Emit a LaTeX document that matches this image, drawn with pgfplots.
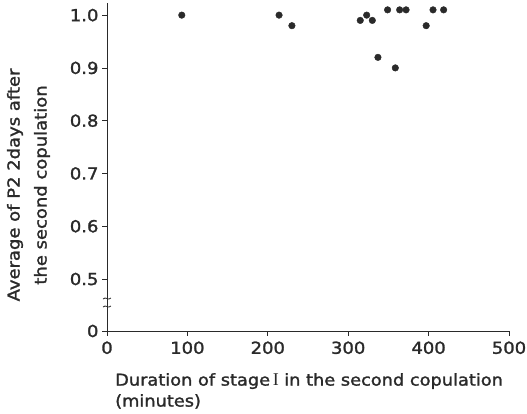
\documentclass[border=0pt]{standalone}
\usepackage{fontspec}
\setmainfont{DejaVu Sans}[FakeStretch=1.09, FakeBold=1.6]
\usepackage{pgfplots}
\pgfplotsset{compat=1.18}
\definecolor{ink}{HTML}{2A2A2A}
\begin{document}
\begin{tikzpicture}
\pgfplotstableread{
x y
93 1.00
214 1.00
230 0.98
315 0.99
323 1.00
330 0.99
337 0.92
349 1.01
358.6 0.90
364 1.01
372 1.01
397 0.98
405.5 1.01
418.7 1.01
}\datatable
\begin{axis}[
  scale only axis, width=402pt, height=328pt,
  xmin=0, xmax=500, ymin=0.4015, ymax=1.023,
  axis x line=bottom, axis y line=left,
  axis line style={-, line width=0.8pt, color=ink},
  tick align=outside, major tick length=5pt,
  tick style={ink, line width=0.8pt},
  xtick={0,100,200,300,400,500},
  ytick={0.4015,0.5,0.6,0.7,0.8,0.9,1.0},
  yticklabels={0,0.5,0.6,0.7,0.8,0.9,1.0},
  /pgf/number format/assume math mode=true,
  tick label style={font=\fontsize{16.5}{19}\selectfont, text=ink},
  xticklabel style={yshift=-2pt},
  clip=false,
]
\addplot[only marks, mark=*, mark size=3.3pt, color=ink, mark options={fill=ink, draw=ink}] table[x=x,y=y] {\datatable};
\coordinate (O) at (axis cs:0,0.4015);
\coordinate (B) at (axis cs:0,0.4545);
\end{axis}
% axis break marks
\draw[ink, line width=0.8pt] (B) ++(-4pt,4pt) .. controls +(3pt,3pt) and +(-3pt,-3pt) .. ++(8pt,1pt);
\draw[ink, line width=0.8pt] (B) ++(-4pt,-4pt) .. controls +(3pt,3pt) and +(-3pt,-3pt) .. ++(8pt,1pt);
% labels
\path (O) ++(-78.5pt,146pt) node[rotate=90, align=center, inner sep=0pt, text=ink,
  font=\fontsize{16.5}{27}\selectfont] {Average of P2 2days after\\the second copulation};
\path (O) ++(8pt,-42pt) node[anchor=north west, align=left, inner sep=0pt, text=ink,
  font=\fontsize{16.3}{21}\selectfont] {Duration of stage\,{\fontspec{Liberation Serif}\fontsize{18}{21}\selectfont I}\,\,in the second copulation\\(minutes)};
\pgfresetboundingbox
\path[use as bounding box] (O) ++(-107pt,-83pt) rectangle ++(527pt,414pt);
\end{tikzpicture}
\end{document}
